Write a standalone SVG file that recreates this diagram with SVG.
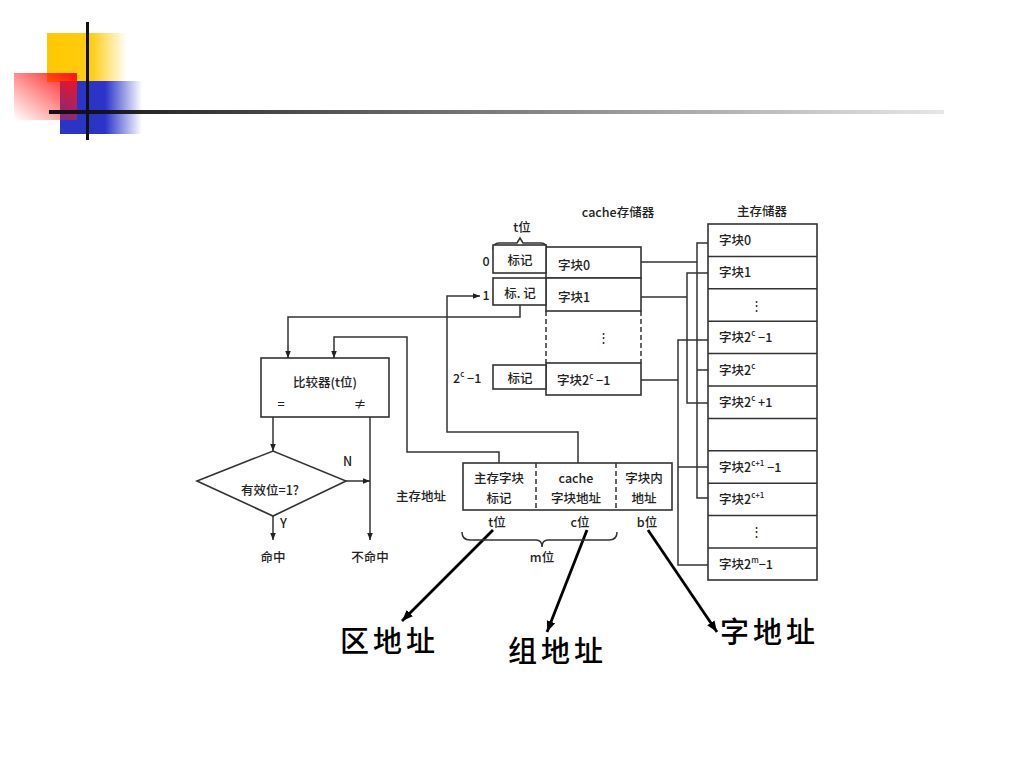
<svg xmlns="http://www.w3.org/2000/svg" width="1024" height="768" viewBox="0 0 1024 768">
<defs>
<linearGradient id="gy" x1="0" y1="0" x2="1" y2="0"><stop offset="0" stop-color="#ffc800"/><stop offset="0.55" stop-color="#ffcc10"/><stop offset="1" stop-color="#ffcc10" stop-opacity="0"/></linearGradient>
<linearGradient id="gb" x1="0" y1="0" x2="1" y2="0"><stop offset="0" stop-color="#2a35c8"/><stop offset="0.55" stop-color="#2a35c8"/><stop offset="1" stop-color="#2a35c8" stop-opacity="0"/></linearGradient>
<linearGradient id="gr" x1="1" y1="0" x2="0" y2="1"><stop offset="0" stop-color="#ff1010"/><stop offset="1" stop-color="#ff2020" stop-opacity="0"/></linearGradient>
<linearGradient id="gl" x1="0" y1="0" x2="1" y2="0"><stop offset="0" stop-color="#111"/><stop offset="1" stop-color="#111" stop-opacity="0.1"/></linearGradient>
<marker id="a" viewBox="0 0 10 10" refX="10" refY="5" markerWidth="7" markerHeight="7" orient="auto" markerUnits="userSpaceOnUse"><path d="M0,1 L10,5 L0,9 z" fill="#222"/></marker>
<marker id="A" viewBox="0 0 10 10" refX="10" refY="5" markerWidth="11" markerHeight="11" orient="auto" markerUnits="userSpaceOnUse"><path d="M0,1 L10,5 L0,9 z" fill="#000"/></marker>
<style>
.b{fill:#fff;stroke:#333;stroke-width:1.6}
.l{fill:none;stroke:#333;stroke-width:1.5}
.d{fill:none;stroke:#333;stroke-width:1.5;stroke-dasharray:5 3}
.t{font-family:"Noto Sans CJK SC","Liberation Serif",serif;font-size:12.5px;font-weight:500;fill:#222}
.c{text-anchor:middle}
.s{font-size:8px}
.big{font-family:"Noto Sans CJK SC",sans-serif;font-size:29px;font-weight:500;fill:#000;letter-spacing:4px}
.k{fill:none;stroke:#000;stroke-width:2.8}
</style>
</defs>
<rect width="1024" height="768" fill="#fff"/>
<g id="decor">
<rect x="47" y="33" width="80" height="49" fill="url(#gy)"/>
<rect x="60" y="81" width="82" height="53" fill="url(#gb)"/>
<rect x="14" y="73" width="63" height="47" fill="url(#gr)"/>
<rect x="86" y="22" width="3" height="118" fill="#111"/>
<rect x="49" y="110" width="895" height="4" fill="url(#gl)"/>
</g>
<g id="connectors">
<path class="l" d="M520,305 V317 H288 V358" marker-end="url(#a)"/>
<path class="l" d="M499,463 V452 H407 V337 H334 V358" marker-end="url(#a)"/>
<path class="l" d="M578,463 V432 H447 V296 H480" marker-end="url(#a)"/>
<path class="l" d="M273,417 V451" marker-end="url(#a)"/>
<path class="l" d="M370,417 V540" marker-end="url(#a)"/>
<path class="l" d="M346,481 H370" marker-end="url(#a)"/>
<path class="l" d="M273,516 V540" marker-end="url(#a)"/>
<path class="l" d="M641,262 H697 M708,243 H697 V498 H708 M697,370 H708"/>
<path class="l" d="M641,297 H687 M708,273 H687 V403 H708"/>
<path class="l" d="M641,380 H678 M708,340 H678 V565 H708 M678,467 H708"/>
<path class="k" d="M493,530 L402,621" marker-end="url(#A)"/>
<path class="k" d="M587,530 L547,632" marker-end="url(#A)"/>
<path class="k" d="M648,530 L717,632" marker-end="url(#A)"/>
</g>
<g id="cache">
<text class="t c" x="618" y="217">cache存储器</text>
<text class="t c" x="522" y="232">t位</text>
<path class="l" d="M493,250 Q493,243 499,243 H517 L520,238 L523,243 H541 Q547,243 547,250"/>
<rect class="b" x="546" y="247" width="95" height="31"/>
<rect class="b" x="546" y="278" width="95" height="33"/>
<rect class="b" x="546" y="363" width="95" height="32"/>
<path class="d" d="M546,311 V363 M641,311 V363"/>
<rect class="b" x="493" y="245" width="53" height="28"/>
<rect class="b" x="493" y="278" width="53" height="27"/>
<rect class="b" x="493" y="365" width="53" height="24"/>
<text class="t c" x="520" y="265">标记</text>
<text class="t c" x="520" y="298">标. 记</text>
<text class="t c" x="520" y="383">标记</text>
<text class="t c" x="486" y="266">0</text>
<text class="t c" x="486" y="300">1</text>
<text class="t" x="453" y="383">2<tspan class="s" dy="-6">c</tspan><tspan dy="6"> −1</tspan></text>
<text class="t" x="558" y="270">字块0</text>
<text class="t" x="558" y="302">字块1</text>
<text class="t c" x="603" y="342">⋮</text>
<text class="t" x="557" y="385">字块2<tspan class="s" dy="-6">c</tspan><tspan dy="6"> −1</tspan></text>
</g>
<g id="memory">
<text class="t c" x="762" y="216">主存储器</text>
<rect class="b" x="708" y="224" width="109" height="356"/>
<path class="l" d="M708,256.4 H817 M708,288.8 H817 M708,321.2 H817 M708,353.6 H817 M708,386 H817 M708,418.4 H817 M708,450.8 H817 M708,483.2 H817 M708,515.6 H817 M708,548 H817"/>
<text class="t" x="719" y="245">字块0</text>
<text class="t" x="719" y="277">字块1</text>
<text class="t" x="750" y="310">⋮</text>
<text class="t" x="719" y="342">字块2<tspan class="s" dy="-6">c</tspan><tspan dy="6"> −1</tspan></text>
<text class="t" x="719" y="375">字块2<tspan class="s" dy="-6">c</tspan></text>
<text class="t" x="719" y="407">字块2<tspan class="s" dy="-6">c</tspan><tspan dy="6"> +1</tspan></text>
<text class="t" x="719" y="472">字块2<tspan class="s" dy="-6">c+1</tspan><tspan dy="6"> −1</tspan></text>
<text class="t" x="719" y="504">字块2<tspan class="s" dy="-6">c+1</tspan></text>
<text class="t" x="750" y="536">⋮</text>
<text class="t" x="719" y="569">字块2<tspan class="s" dy="-6">m</tspan><tspan dy="6">−1</tspan></text>
</g>
<g id="comparator">
<rect class="b" x="261" y="358" width="128" height="59"/>
<text class="t c" x="325" y="387">比较器(t位)</text>
<text class="t c" x="281" y="409">=</text>
<text class="t c" x="360" y="409">≠</text>
</g>
<g id="valid">
<path class="b" d="M197,481 L273,451 L346,481 L273,516 Z"/>
<text class="t c" x="270" y="495">有效位=1?</text>
<text class="t" x="343" y="466">N</text>
<text class="t" x="280" y="528">Y</text>
</g>
<g id="hit"><text class="t c" x="273" y="562">命中</text></g>
<g id="miss"><text class="t c" x="370" y="562">不命中</text></g>
<g id="address">
<text class="t" x="396" y="501">主存地址</text>
<rect class="b" x="463" y="463" width="209" height="47"/>
<path class="d" d="M536,463 V510 M616,463 V510"/>
<text class="t c" x="499" y="483">主存字块</text>
<text class="t c" x="499" y="503">标记</text>
<text class="t c" x="576" y="483">cache</text>
<text class="t c" x="576" y="503">字块地址</text>
<text class="t c" x="644" y="483">字块内</text>
<text class="t c" x="644" y="503">地址</text>
<text class="t c" x="497" y="527">t位</text>
<text class="t c" x="580" y="527">c位</text>
<text class="t c" x="647" y="527">b位</text>
<path class="l" d="M462,532 Q462,540 470,540 H536 Q542,540 542,547 Q542,540 548,540 H609 Q617,540 617,532"/>
<text class="t c" x="542" y="562">m位</text>
</g>
<g id="labels">
<text class="big" x="340" y="652">区地址</text>
<text class="big" x="508" y="662">组地址</text>
<text class="big" x="720" y="643">字地址</text>
</g>
</svg>
